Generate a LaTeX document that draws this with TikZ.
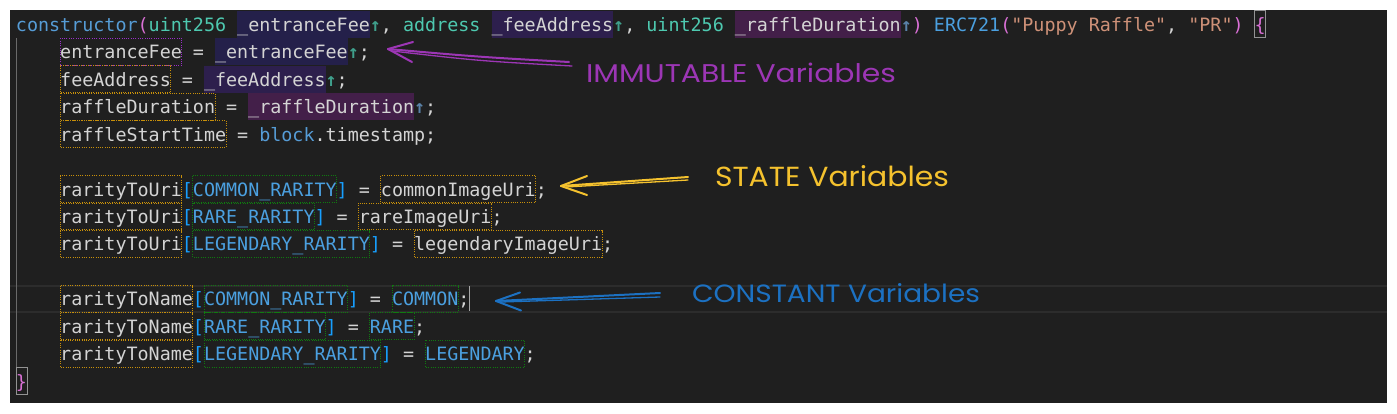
\documentclass[tikz,border=0pt]{standalone}
\usepackage{fontspec}
\usepackage{graphicx}
\setmonofont{DejaVu Sans Mono}
\newfontfamily\annfont{Poppins}
\definecolor{panel}{HTML}{1F1F1F}
\definecolor{txt}{HTML}{D4D4D4}
\definecolor{kw}{HTML}{569CD6}
\definecolor{ty}{HTML}{4EC9B0}
\definecolor{st}{HTML}{CE9178}
\definecolor{cn}{HTML}{4BA0E0}
\definecolor{br}{HTML}{DA70D6}
\definecolor{bk}{HTML}{179FFF}
\definecolor{hintA}{HTML}{3FA08C}
\definecolor{hintB}{HTML}{5A82A8}
\definecolor{hlA}{HTML}{24204A}
\definecolor{hlB}{HTML}{2D1F4D}
\definecolor{hlC}{HTML}{431F49}
\definecolor{ob}{HTML}{C8900A}
\definecolor{pb}{HTML}{9B30C8}
\definecolor{gb}{HTML}{107A10}
\definecolor{curline}{HTML}{2C2C2C}
\definecolor{guide}{HTML}{6A6A6A}
\definecolor{annP}{HTML}{9C36B5}
\definecolor{annY}{HTML}{F5C22E}
\definecolor{annB}{HTML}{1C71C2}
\newcommand\K[1]{\textcolor{kw}{#1}}
\newcommand\T[1]{\textcolor{ty}{#1}}
\newcommand\Sg[1]{\textcolor{st}{#1}}
\newcommand\C[1]{\textcolor{cn}{#1}}
\newcommand\B[1]{\textcolor{br}{#1}}
\newcommand\Q[1]{\textcolor{bk}{#1}}
\newcommand\HA{\textcolor{hintA}{\bfseries ↑}}
\newcommand\HB{\textcolor{hintB}{\bfseries ↑}}
\newcommand\mybox[4]{\path[#4] ({16+#2*11.06},{24.3+#1*27.46-13.4}) rectangle ({16+(#3+1)*11.06},{24.3+#1*27.46+13.4});}
\tikzset{
  code/.style={anchor=base west, inner sep=0pt, outer sep=0pt, text=txt,
    font=\ttfamily\frenchspacing\fontsize{18.37}{20}\selectfont},
  annlbl/.style={anchor=base west, inner sep=0pt, outer sep=0pt},
  obox/.style={draw=ob, line width=1pt, dash pattern=on 1pt off 1.3pt},
  pbox/.style={draw=pb, line width=1pt, dash pattern=on 1pt off 1.3pt},
  gbox/.style={draw=gb, line width=1pt, dash pattern=on 1pt off 1.3pt},
  mbox/.style={draw=gray!85, line width=1pt},
  ann/.style={line width=2pt, line cap=round, line join=round},
  ann2/.style={line width=1.3pt, line cap=round, line join=round}
}
\begin{document}
\begin{tikzpicture}[x=1pt,y=-1pt]
\useasboundingbox (0,0) rectangle (1397,413);
\fill[white] (0,0) rectangle (1397,413);
\fill[panel] (10,10) rectangle (1387,403);
% current line borders (row 10)
\fill[curline] (10,{24.3+10*27.46-13.6}) rectangle (1387,{24.3+10*27.46-11.6});
\fill[curline] (10,{24.3+10*27.46+11.6}) rectangle (1387,{24.3+10*27.46+13.6});
% indent guide
\draw[guide, line width=1.3pt] (16.5,38) -- (16.5,367);
% highlights
\mybox{0}{20}{31}{fill=hlA}
\mybox{0}{43}{53}{fill=hlB}
\mybox{0}{65}{79}{fill=hlC}
\mybox{1}{18}{29}{fill=hlA}
\mybox{2}{17}{27}{fill=hlB}
\mybox{3}{21}{35}{fill=hlC}
% code lines
\node[code] (l0) at (16,{24.3+0*27.46+7}) {\K{constructor}\B{(}\T{uint256} \_entranceFee\HA, \T{address} \_feeAddress\HA, \T{uint256} \_raffleDuration\HB\B{)} \C{ERC721}\B{(}\Sg{"Puppy Raffle"}, \Sg{"PR"}\B{)} \B{\{}};
\node[code] (l1) at ({16+4*11.06},{24.3+1*27.46+7}) {entranceFee = \_entranceFee\HA;};
\node[code] (l2) at ({16+4*11.06},{24.3+2*27.46+7}) {feeAddress = \_feeAddress\HA;};
\node[code] (l3) at ({16+4*11.06},{24.3+3*27.46+7}) {raffleDuration = \_raffleDuration\HB;};
\node[code] (l4) at ({16+4*11.06},{24.3+4*27.46+7}) {raffleStartTime = \K{block}.timestamp;};
\node[code] (l6) at ({16+4*11.06},{24.3+6*27.46+7}) {rarityToUri\Q{[}\C{COMMON\_RARITY}\Q{]} = commonImageUri;};
\node[code] (l7) at ({16+4*11.06},{24.3+7*27.46+7}) {rarityToUri\Q{[}\C{RARE\_RARITY}\Q{]} = rareImageUri;};
\node[code] (l8) at ({16+4*11.06},{24.3+8*27.46+7}) {rarityToUri\Q{[}\C{LEGENDARY\_RARITY}\Q{]} = legendaryImageUri;};
\node[code] (l10) at ({16+4*11.06},{24.3+10*27.46+7}) {rarityToName\Q{[}\C{COMMON\_RARITY}\Q{]} = \C{COMMON};};
\node[code] (l11) at ({16+4*11.06},{24.3+11*27.46+7}) {rarityToName\Q{[}\C{RARE\_RARITY}\Q{]} = \C{RARE};};
\node[code] (l12) at ({16+4*11.06},{24.3+12*27.46+7}) {rarityToName\Q{[}\C{LEGENDARY\_RARITY}\Q{]} = \C{LEGENDARY};};
\node[code] (l13) at (16,{24.3+13*27.46+7}) {\B{\}}};
% bracket match boxes
\mybox{0}{112}{112}{mbox}
\mybox{13}{0}{0}{mbox}
% dotted boxes
\mybox{1}{4}{14}{pbox}
\mybox{2}{4}{13}{obox}
\mybox{3}{4}{17}{obox}
\mybox{4}{4}{18}{obox}
\mybox{6}{4}{14}{obox}
\mybox{6}{16}{28}{gbox}
\mybox{6}{33}{46}{obox}
\mybox{7}{4}{14}{obox}
\mybox{7}{16}{26}{gbox}
\mybox{7}{31}{42}{obox}
\mybox{8}{4}{14}{obox}
\mybox{8}{16}{31}{gbox}
\mybox{8}{36}{52}{obox}
\mybox{10}{4}{15}{obox}
\mybox{10}{17}{29}{gbox}
\mybox{10}{34}{39}{gbox}
\mybox{11}{4}{15}{obox}
\mybox{11}{17}{27}{gbox}
\mybox{11}{32}{35}{gbox}
\mybox{12}{4}{15}{obox}
\mybox{12}{17}{32}{gbox}
\mybox{12}{37}{45}{gbox}
% cursor
\draw[color=gray!70, line width=1.4pt] ({16+41*11.06},286) -- ({16+41*11.06},311);
% annotations
\node[annlbl] (imm) at (586,82) {\resizebox{310pt}{19.5pt}{\annfont\color{annP}IMMUTABLE Variables}};
\node[annlbl] (sta) at (715,186) {\resizebox{234pt}{21pt}{\annfont\color{annY}STATE Variables}};
\node[annlbl] (con) at (692,302) {\resizebox{288pt}{19pt}{\annfont\color{annB}CONSTANT Variables}};
% purple arrow
\coordinate (ptip) at (388,49);
\coordinate (ptail) at (569,62);
\draw[ann, annP] (ptail) .. controls (480,57) .. (ptip);
\draw[ann2, annP] (572,66) .. controls (480,61) .. (392,51);
\draw[ann, annP] (ptip) -- (413,42);
\draw[ann, annP] (ptip) -- (412,62);
% yellow arrow
\coordinate (ytip) at (561,186);
\coordinate (ytail) at (688,177);
\draw[ann, annY] (ytail) -- (ytip);
\draw[ann2, annY] (688,180) -- (566,187);
\draw[ann, annY] (ytip) -- (587,176);
\draw[ann, annY] (ytip) -- (587,195);
% blue arrow
\coordinate (btip) at (496,301);
\coordinate (btail) at (660,293);
\draw[ann, annB] (btail) -- (btip);
\draw[ann2, annB] (660,297) -- (501,302);
\draw[ann, annB] (btip) -- (520,292.5);
\draw[ann, annB] (btip) -- (521,310.5);
\end{tikzpicture}
\end{document}
